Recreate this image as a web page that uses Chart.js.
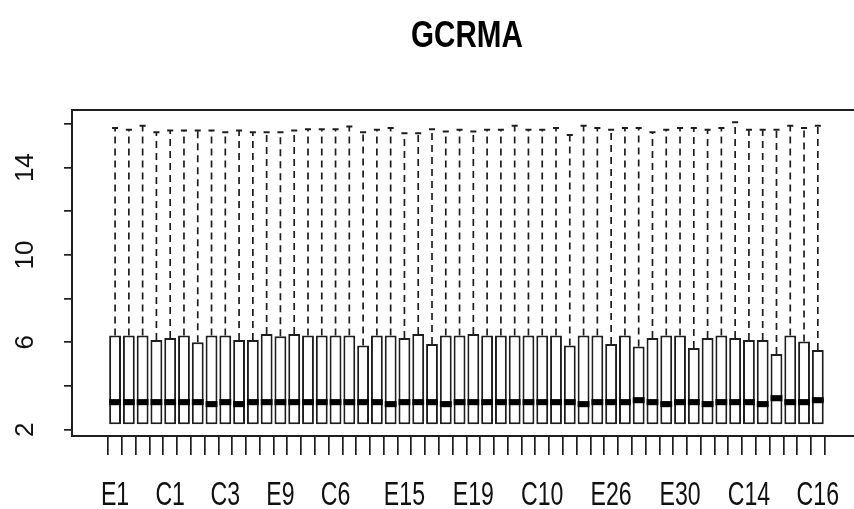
<!DOCTYPE html>
<html>
<head>
<meta charset="utf-8">
<script src="https://cdn.jsdelivr.net/npm/chart.js@4.4.0/dist/chart.umd.min.js"></script>
<style>
html,body{margin:0;padding:0;background:#ffffff;}
#wrap{width:854px;height:509px;position:relative;}
</style>
</head>
<body>
<div id="wrap"><canvas id="c"></canvas></div>
<script>
const chartTitle = 'GCRMA';
const sampleNames = ['E1','E2','E3','E4','C1','E5','C2','E6','C3','E7','C4','E8','E9','C5','E10','E11','C6','E12','C7','E13','E14','E15','C8','E16','E17','E18','E19','C9','E20','E21','E22','C10','E23','E24','C11','E25','E26','C12','E27','E28','E29','E30','C13','E31','E32','E33','C14','E34','C15','E35','E36','C16'];
const tickLabels = ['E1','C1','C3','E9','C6','E15','E19','C10','E26','E30','C14','C16'];
const yTickValues = [2,4,6,8,10,12,14,16];
const yTickLabels = [2,6,10,14];

const q1 = [2.25,2.25,2.25,2.25,2.25,2.25,2.25,2.25,2.25,2.25,2.25,2.25,2.25,2.25,2.25,2.25,2.25,2.25,2.25,2.25,2.25,2.25,2.25,2.25,2.25,2.25,2.25,2.25,2.25,2.25,2.25,2.25,2.25,2.25,2.25,2.25,2.25,2.25,2.25,2.25,2.25,2.25,2.25,2.25,2.25,2.25,2.25,2.25,2.25,2.25,2.25,2.25];
const median = [3.26,3.26,3.26,3.26,3.26,3.26,3.26,3.17,3.26,3.17,3.26,3.26,3.26,3.26,3.26,3.26,3.26,3.26,3.26,3.26,3.17,3.26,3.26,3.26,3.17,3.26,3.26,3.26,3.26,3.26,3.26,3.26,3.26,3.26,3.17,3.26,3.26,3.26,3.35,3.26,3.17,3.26,3.26,3.17,3.26,3.26,3.26,3.17,3.44,3.26,3.26,3.35];
const q3 = [6.31,6.31,6.31,6.11,6.20,6.31,6.00,6.31,6.31,6.11,6.11,6.38,6.28,6.38,6.31,6.31,6.31,6.31,5.85,6.31,6.31,6.20,6.38,5.92,6.31,6.31,6.38,6.31,6.31,6.31,6.31,6.31,6.31,5.85,6.31,6.31,5.92,6.31,5.81,6.20,6.31,6.31,5.74,6.20,6.31,6.20,6.11,6.11,5.47,6.31,6.04,5.65];
const whiskerMax = [15.81,15.73,15.92,15.62,15.70,15.70,15.70,15.70,15.62,15.70,15.62,15.62,15.62,15.70,15.76,15.76,15.76,15.88,15.62,15.73,15.81,15.57,15.57,15.76,15.65,15.73,15.65,15.73,15.73,15.92,15.73,15.73,15.81,15.50,15.92,15.81,15.73,15.81,15.81,15.62,15.73,15.81,15.81,15.73,15.81,16.08,15.73,15.73,15.73,15.92,15.81,15.92];

const LINE = '#1e1e1e';
const MEDIAN_HALF = 0.14;
const CAP_HALF = 0.22;

const boxData = sampleNames.map((_, i) => ({x: i, y: [q1[i], q3[i]]}));
const medianData = sampleNames.map((_, i) => ({x: i, y: [median[i] - MEDIAN_HALF, median[i] + MEDIAN_HALF]}));
const whiskerData = [];
const capData = [];
sampleNames.forEach((_, i) => {
  whiskerData.push({x: i, y: q3[i]}, {x: i, y: whiskerMax[i]}, {x: i, y: null});
  capData.push({x: i - CAP_HALF, y: whiskerMax[i]}, {x: i + CAP_HALF, y: whiskerMax[i]}, {x: i, y: null});
});

const X_MIN = -2.58, X_MAX = 53.08;

// Draws the R-style text: rotated y tick labels, narrow x tick labels and the title.
const textPlugin = {
  id: 'rText',
  afterDraw(chart) {
    const ctx = chart.ctx;
    const ys = chart.scales.y;
    const xs = chart.scales.x;
    ctx.save();
    ctx.fillStyle = '#111';
    // y tick labels (rotated)
    ctx.font = '26px "Liberation Sans", Arial, sans-serif';
    ctx.textAlign = 'center';
    ctx.textBaseline = 'middle';
    yTickLabels.forEach(v => {
      const py = ys.getPixelForValue(v);
      ctx.save();
      ctx.translate(26, py);
      ctx.rotate(-Math.PI / 2);
      ctx.fillText(String(v), 0, 0);
      ctx.restore();
    });
    // x tick labels (narrow)
    ctx.font = '34px "Liberation Sans", Arial, sans-serif';
    ctx.textAlign = 'center';
    ctx.textBaseline = 'alphabetic';
    sampleNames.forEach((name, i) => {
      if (!tickLabels.includes(name)) return;
      const px = xs.getPixelForValue(i);
      ctx.save();
      ctx.translate(px, 505);
      ctx.scale(0.68, 1);
      ctx.fillText(name, 0, 0);
      ctx.restore();
    });
    // title
    ctx.fillStyle = '#000';
    ctx.font = 'bold 37px "Liberation Sans", Arial, sans-serif';
    ctx.save();
    ctx.translate(467, 46.5);
    ctx.scale(0.8, 1);
    ctx.fillText(chartTitle, 0, 0);
    ctx.restore();
    ctx.restore();
  }
};

new Chart(document.getElementById('c'), {
  type: 'bar',
  data: {
    datasets: [
      {type: 'bar', data: medianData, backgroundColor: '#000', borderWidth: 0, grouped: false, order: 0,
       barPercentage: 0.86, categoryPercentage: 1.0},
      {type: 'bar', data: boxData, backgroundColor: '#ffffff', borderColor: LINE, borderWidth: 2,
       borderSkipped: false, grouped: false, order: 1, barPercentage: 0.86, categoryPercentage: 1.0},
      {type: 'line', data: whiskerData, borderColor: LINE, borderWidth: 1.7, borderDash: [7, 5],
       pointRadius: 0, spanGaps: false, fill: false, tension: 0, order: 2},
      {type: 'line', data: capData, borderColor: LINE, borderWidth: 2,
       pointRadius: 0, spanGaps: false, fill: false, tension: 0, order: 3}
    ]
  },
  options: {
    responsive: true,
    maintainAspectRatio: false,
    devicePixelRatio: 1,
    animation: false,
    events: [],
    layout: {autoPadding: false, padding: {left: 64, right: 0, top: 110, bottom: 54}},
    plugins: {
      legend: {display: false},
      tooltip: {enabled: false},
      title: {display: false}
    },
    scales: {
      x: {
        type: 'linear',
        position: 'bottom',
        min: X_MIN,
        max: X_MAX,
        afterBuildTicks: (axis) => { axis.ticks = sampleNames.map((_, i) => ({value: i})); },
        grid: {drawOnChartArea: false, drawTicks: true, tickLength: 19, color: LINE, lineWidth: 1.7},
        border: {display: true, color: LINE, width: 2},
        ticks: {display: false}
      },
      xTop: {
        type: 'linear',
        position: 'top',
        min: X_MIN,
        max: X_MAX,
        grid: {display: false, drawTicks: false, drawOnChartArea: false},
        border: {display: true, color: LINE, width: 2},
        ticks: {display: false}
      },
      y: {
        type: 'linear',
        min: 1.71,
        max: 16.64,
        afterBuildTicks: (axis) => { axis.ticks = yTickValues.map(v => ({value: v})); },
        grid: {drawOnChartArea: false, drawTicks: true, tickLength: 8, color: LINE, lineWidth: 1.7},
        border: {display: true, color: LINE, width: 2},
        ticks: {display: false}
      }
    }
  },
  plugins: [textPlugin]
});
</script>
</body>
</html>
